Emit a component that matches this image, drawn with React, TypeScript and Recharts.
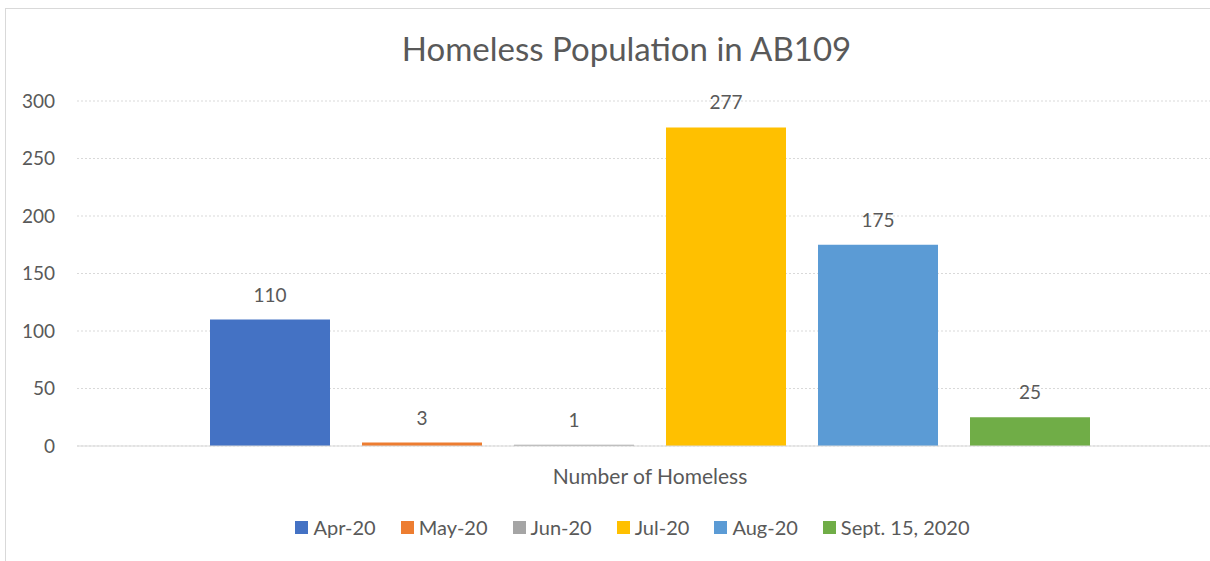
import { BarChart, Bar, XAxis, YAxis, CartesianGrid, Legend, LabelList } from 'recharts';

const categories = ['Number of Homeless'];
const seriesLabels = ['Apr-20', 'May-20', 'Jun-20', 'Jul-20', 'Aug-20', 'Sept. 15, 2020'];
const seriesValues = [110, 3, 1, 277, 175, 25];
const yTicks = [0, 50, 100, 150, 200, 250, 300];

const seriesColors = ['#4472C4', '#ED7D31', '#A5A5A5', '#FFC000', '#5B9BD5', '#70AD47'];

const FONT = 'Lato, "Open Sans", sans-serif';
const TEXT = '#595959';

const data = categories.map((name) => {
  const row: Record<string, string | number> = { name };
  seriesValues.forEach((v, i) => {
    row[`s${i}`] = v;
  });
  return row;
});

// legend kept in series order (recharts sorts the payload by default)
function renderLegend() {
  return (
    <div
      style={{
        display: 'flex',
        justifyContent: 'center',
        paddingTop: 11,
        paddingLeft: 42,
        fontFamily: FONT,
        fontSize: 20,
        color: TEXT,
        lineHeight: '20px',
      }}
    >
      {seriesLabels.map((label, i) => (
        <div
          key={label}
          style={{ display: 'flex', alignItems: 'center', marginRight: i < seriesLabels.length - 1 ? 25 : 0 }}
        >
          <span
            style={{ width: 13, height: 13, background: seriesColors[i], display: 'inline-block', marginRight: 5 }}
          />
          <span>{label}</span>
        </div>
      ))}
    </div>
  );
}

export default function App() {
  return (
    <div
      style={{
        position: 'absolute',
        left: 0,
        top: 0,
        width: 1210,
        height: 561,
        overflow: 'hidden',
        background: '#fff',
      }}
    >
      <div
        style={{
          position: 'absolute',
          left: 5,
          top: 8,
          width: 1300,
          height: 700,
          border: '1.5px solid #d9d9d9',
          boxSizing: 'border-box',
        }}
      />
      <div
        style={{
          position: 'absolute',
          left: 0,
          top: 28,
          width: 1253,
          textAlign: 'center',
          fontFamily: FONT,
          fontSize: 33,
          color: TEXT,
          lineHeight: '40px',
        }}
      >
        Homeless Population in AB109
      </div>
      <div style={{ position: 'absolute', left: 0, top: 0 }}>
        <BarChart
          width={1240}
          height={561}
          data={data}
          margin={{ top: 101, right: 17, left: 0, bottom: 0 }}
          barSize={120}
          barGap={32}
        >
          <CartesianGrid vertical={false} stroke="#d9d9d9" strokeDasharray="2 2" />
          <XAxis
            dataKey="name"
            height={60}
            axisLine={{ stroke: '#d9d9d9' }}
            tickLine={false}
            tickSize={0}
            tickMargin={23}
            tick={{ fontSize: 21, fill: TEXT, fontFamily: FONT }}
          />
          <YAxis
            width={77}
            domain={[0, 300]}
            ticks={yTicks}
            axisLine={false}
            tickLine={false}
            tickSize={0}
            tickMargin={22}
            tick={{ fontSize: 19, fill: TEXT, fontFamily: FONT }}
          />
          <Legend verticalAlign="bottom" height={55} content={renderLegend} />
          {seriesLabels.map((label, i) => (
            <Bar key={label} dataKey={`s${i}`} name={label} fill={seriesColors[i]} isAnimationActive={false}>
              <LabelList
                dataKey={`s${i}`}
                position="top"
                offset={18}
                style={{ fontSize: 19, fill: TEXT, fontFamily: FONT }}
              />
            </Bar>
          ))}
        </BarChart>
      </div>
    </div>
  );
}
